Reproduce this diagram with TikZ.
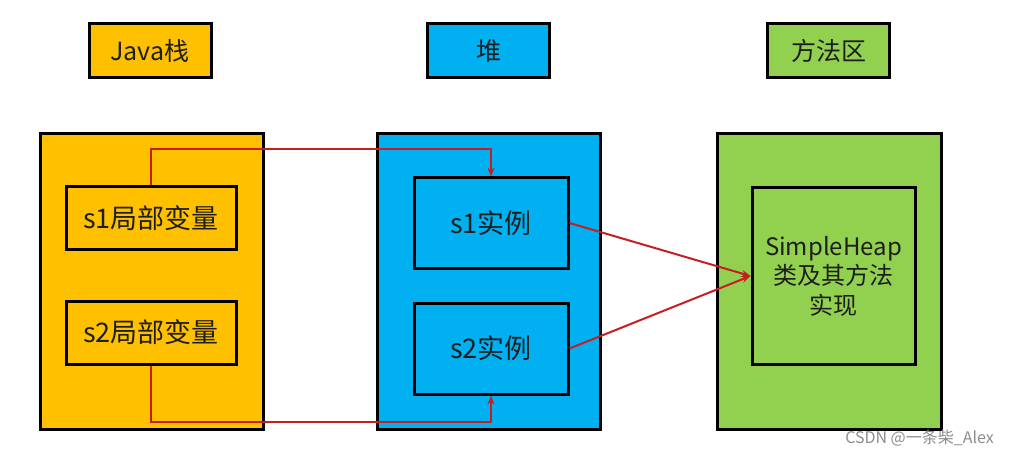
\documentclass[tikz,border=0pt]{standalone}
\usepackage{fontspec}
\setmainfont{Noto Sans CJK SC}
\usetikzlibrary{arrows.meta}
\definecolor{jyellow}{RGB}{255,192,0}
\definecolor{jblue}{RGB}{0,176,240}
\definecolor{jgreen}{RGB}{146,208,80}
\definecolor{jred}{RGB}{200,30,35}
\definecolor{jtext}{RGB}{30,30,30}
\tikzset{
  box/.style={draw=black, line width=3pt, inner sep=0pt, text=jtext},
  titlebox/.style={box, minimum width=122pt, minimum height=54pt, font=\fontsize{25}{29}\selectfont},
  bigbox/.style={box, minimum width=223pt, minimum height=295pt},
  itembox/.style={box, font=\fontsize{27}{31}\selectfont},
  link/.style={draw=jred, line width=2pt},
  arr/.style={link, -{Stealth[length=9pt,width=7pt]}}
}
\begin{document}
\begin{tikzpicture}[x=1pt,y=-1pt]
\useasboundingbox (0,0) rectangle (1009,457);
% titles
\node[titlebox, fill=jyellow] (t1) at (150,51) {Java栈};
\node[titlebox, fill=jblue] (t2) at (488.5,51) {堆};
\node[titlebox, fill=jgreen] (t3) at (828.5,51) {方法区};
% big boxes
\node[bigbox, fill=jyellow] (stack) at (151.5,281.5) {};
\node[bigbox, fill=jblue] (heap) at (488.5,281.5) {};
\node[bigbox, fill=jgreen, minimum width=224pt] (method) at (829,281.5) {};
% inner boxes
\node[itembox, fill=jyellow, minimum width=170pt, minimum height=62pt] (s1l) at (151,218) {s1局部变量};
\node[itembox, fill=jyellow, minimum width=170pt, minimum height=63pt] (s2l) at (151,332.5) {s2局部变量};
\node[itembox, fill=jblue, minimum width=154pt, minimum height=90pt] (s1i) at (491,223) {s1实例};
\node[itembox, fill=jblue, minimum width=154pt, minimum height=91pt] (s2i) at (491,348.5) {s2实例};
\node[itembox, fill=jgreen, minimum width=163pt, minimum height=176pt, align=center,
      font=\fontsize{24}{29.5}\selectfont] (cls) at (833.5,276)
      {SimpleHeap\\类及其方法\\实现};
% connectors
\draw[arr] (s1l.north) -- ++(0,-36) -| (s1i.north);
\draw[arr] (s2l.south) -- ++(0,56) -| (s2i.south);
\draw[arr] (s1i.east) -- (cls.west);
\draw[arr] (s2i.east) -- (cls.west);
% watermark
\node[text=black!45, font=\fontsize{16}{18}\selectfont, anchor=east, inner sep=0pt] (wm) at (994,438) {CSDN @一条柴\_Alex};
\end{tikzpicture}
\end{document}
